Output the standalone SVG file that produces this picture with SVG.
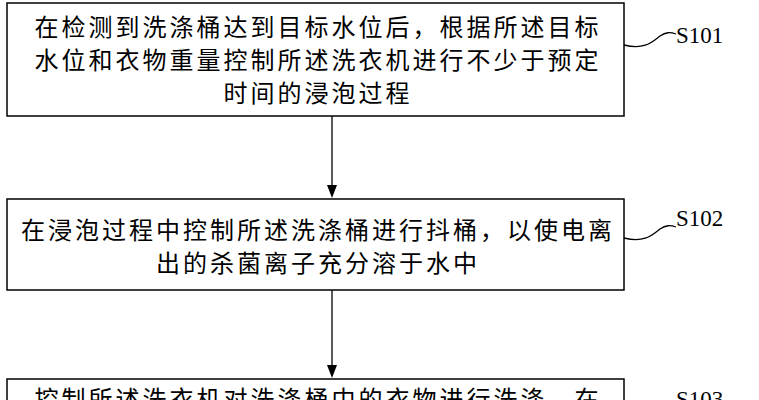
<svg xmlns="http://www.w3.org/2000/svg" width="759" height="400" viewBox="0 0 759 400">
<style>
.b{fill:#fff;stroke:#000;stroke-width:1.5}
.t{font-family:"Liberation Serif","Noto Sans CJK SC",serif;font-size:24px;letter-spacing:3px;fill:#000;text-anchor:middle}
.l{font-family:"Liberation Serif",serif;font-size:23px;fill:#000}
.c{fill:none;stroke:#000;stroke-width:1.3}
</style>
<rect width="759" height="400" fill="#fff"/>
<g id="n1"><rect class="b" x="7" y="3" width="617" height="113"/>
<text class="t" x="318" y="36">在检测到洗涤桶达到目标水位后，根据所述目标</text>
<text class="t" x="318" y="69">水位和衣物重量控制所述洗衣机进行不少于预定</text>
<text class="t" x="318" y="102">时间的浸泡过程</text>
<path class="c" d="M624,45 C645,50 652,42 660,36 C666,32 670,32 676,34"/>
<text class="l" x="676" y="43">S101</text></g>
<g id="n2"><rect class="b" x="7" y="199" width="617" height="91"/>
<text class="t" x="318" y="239">在浸泡过程中控制所述洗涤桶进行抖桶，以使电离</text>
<text class="t" x="318" y="272">出的杀菌离子充分溶于水中</text>
<path class="c" d="M624,238 C645,243 652,235 660,229 C666,225 670,225 676,227"/>
<text class="l" x="676" y="226">S102</text></g>
<g id="n3"><rect class="b" x="7" y="379" width="617" height="40"/>
<text class="t" x="318" y="408">控制所述洗衣机对洗涤桶中的衣物进行洗涤，在</text>
<path class="c" d="M662,408 C667,401 672,400 678,402"/>
<text class="l" x="676" y="407">S103</text></g>
<g id="connectors">
<line x1="332" y1="116" x2="332" y2="186" stroke="#000" stroke-width="1.3"/>
<path d="M327,185 L337,185 L332,198 z"/>
<line x1="332" y1="290" x2="332" y2="366" stroke="#000" stroke-width="1.3"/>
<path d="M327,365 L337,365 L332,378 z"/>
</g>
</svg>
